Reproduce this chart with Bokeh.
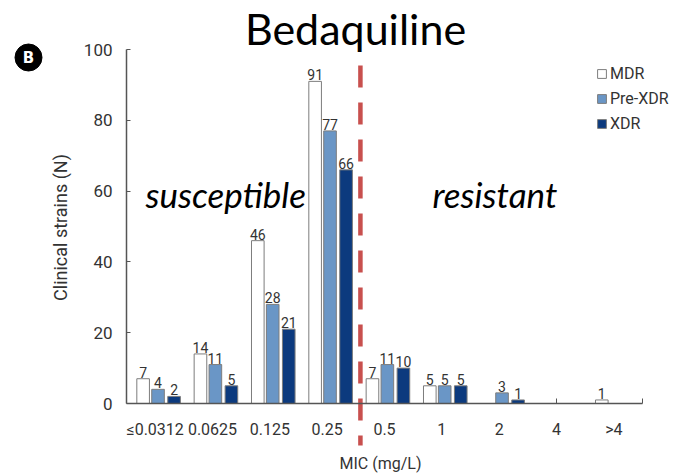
import math
from bokeh.plotting import figure
from bokeh.models import (ColumnDataSource, Range1d, FixedTicker, Label, LinearAxis,
                          Legend, LegendItem)
from bokeh.transform import dodge
from bokeh.core.properties import value
from bokeh.embed import file_html
from bokeh.resources import INLINE

# ---- data ----
categories = ["≤0.0312", "0.0625", "0.125", "0.25", "0.5", "1", "2", "4", ">4"]
mdr = [7, 14, 46, 91, 7, 5, 0, 0, 1]
pre_xdr = [4, 11, 28, 77, 11, 5, 3, 0, 0]
xdr = [2, 5, 21, 66, 10, 5, 1, 0, 0]
y_ticks = [0, 20, 40, 60, 80, 100]
series_names = ["MDR", "Pre-XDR", "XDR"]

# ---- layout / style constants ----
W, H = 673, 475
PX_L, PX_R, PX_T, PX_B = 126, 642, 49, 403
N = len(categories)
YMAX = 100
xs = (PX_R - PX_L) / N
ys = (PX_B - PX_T) / YMAX
colors = ["#ffffff", "#6a96c6", "#0c3a7e"]
offsets = [-0.21, 0.05, 0.33]
BREAK_X = 4.08
FONT = "Roboto"
TXT = "#333333"


def dx(px):
    return (px - PX_L) / xs


def dy(py):
    return (PX_B - py) / ys


pos = [i + 0.5 for i in range(N)]

p = figure(width=W, height=H, output_backend="svg", toolbar_location=None,
           x_range=Range1d(dx(0), dx(W)), y_range=Range1d(dy(H), dy(0)),
           min_border=0, x_axis_location=None, y_axis_location=None)
p.outline_line_color = None
p.xgrid.visible = False
p.ygrid.visible = False
p.background_fill_color = "white"
p.border_fill_color = "white"

items = []
for name, vals, color, off in zip(series_names, [mdr, pre_xdr, xdr], colors, offsets):
    src = ColumnDataSource(dict(x=pos, y=vals))
    r = p.vbar(x=dodge("x", off), top="y", width=0.22, source=src,
               fill_color=color, line_color="#7d7d7d", line_width=1)
    items.append(LegendItem(label=name, renderers=[r]))
    nz = [(x, v) for x, v in zip(pos, vals) if v > 0]
    lsrc = ColumnDataSource(dict(x=[a for a, _ in nz], y=[b for _, b in nz],
                                 t=[str(b) for _, b in nz]))
    p.text(x=dodge("x", off), y="y", text="t", source=lsrc, text_align="center",
           text_baseline="bottom", y_offset=-1, text_font=value(FONT),
           text_font_size="14px", text_color=TXT)

# axes at fixed locations
xa = LinearAxis(fixed_location=0, bounds=(0, N),
                ticker=FixedTicker(ticks=pos, minor_ticks=[7.5, 9]))
xa.major_label_overrides = {x: c for x, c in zip(pos, categories)}
xa.major_tick_line_color = None
xa.minor_tick_in = 5
xa.minor_tick_out = 0
xa.minor_tick_line_color = "#555555"
xa.axis_line_color = "#555555"
xa.axis_line_width = 1.5
xa.major_label_text_font = FONT
xa.major_label_text_font_size = "16px"
xa.major_label_text_color = TXT
xa.major_label_standoff = 10
p.add_layout(xa, "below")

ya = LinearAxis(fixed_location=0, bounds=(0, YMAX), ticker=FixedTicker(ticks=y_ticks))
ya.major_tick_in = 4
ya.major_tick_out = 0
ya.major_tick_line_color = "#555555"
ya.minor_tick_line_color = None
ya.axis_line_color = "#555555"
ya.axis_line_width = 1.5
ya.major_label_text_font = FONT
ya.major_label_text_font_size = "17px"
ya.major_label_text_color = TXT
ya.major_label_standoff = 14
p.add_layout(ya, "left")

# axis titles
p.add_layout(Label(x=380, y=H - 463, x_units="screen", y_units="screen", text="MIC (mg/L)",
                   text_align="center", text_baseline="middle", text_font=FONT,
                   text_font_size="16px", text_color=TXT))
p.add_layout(Label(x=60, y=H - 227, x_units="screen", y_units="screen",
                   text="Clinical strains (N)", angle=math.pi / 2,
                   text_align="center", text_baseline="middle", text_font=FONT,
                   text_font_size="18px", text_color=TXT))

# red dashed threshold line (drawn top to bottom)
p.segment(x0=[BREAK_X], y0=[dy(65)], x1=[BREAK_X], y1=[dy(445)],
          line_color="#c8504e", line_width=4.5, line_dash="22 15")

# legend
leg = Legend(items=items, location=(596, H - 133), orientation="vertical",
             label_text_font=FONT, label_text_font_size="16px", label_text_color=TXT,
             glyph_width=11, glyph_height=11, label_height=18, spacing=6,
             padding=0, margin=0, border_line_color=None, background_fill_alpha=0,
             label_standoff=3)
p.add_layout(leg)

# texts
p.add_layout(Label(x=355, y=H - 28, x_units="screen", y_units="screen", text="Bedaquiline",
                   text_align="center", text_baseline="middle",
                   text_font="Lato", text_font_size="43px", text_color="black"))
p.add_layout(Label(x=145, y=H - 193, x_units="screen", y_units="screen", text="susceptible",
                   text_align="left", text_baseline="middle", text_font="Lato",
                   text_font_style="italic", text_font_size="35px", text_color="black"))
p.add_layout(Label(x=432, y=H - 193, x_units="screen", y_units="screen", text="resistant",
                   text_align="left", text_baseline="middle", text_font="Lato",
                   text_font_style="italic", text_font_size="35px", text_color="black"))

# panel badge
p.scatter(x=[dx(28)], y=[dy(57)], size=27, marker="circle", fill_color="black",
          line_color="black")
p.add_layout(Label(x=28, y=H - 57, x_units="screen", y_units="screen", text="B",
                   text_align="center", text_baseline="middle", text_font="DejaVu Sans",
                   text_font_style="bold", text_font_size="15px", text_color="white"))

open("out.html", "w").write(file_html(p, INLINE))
